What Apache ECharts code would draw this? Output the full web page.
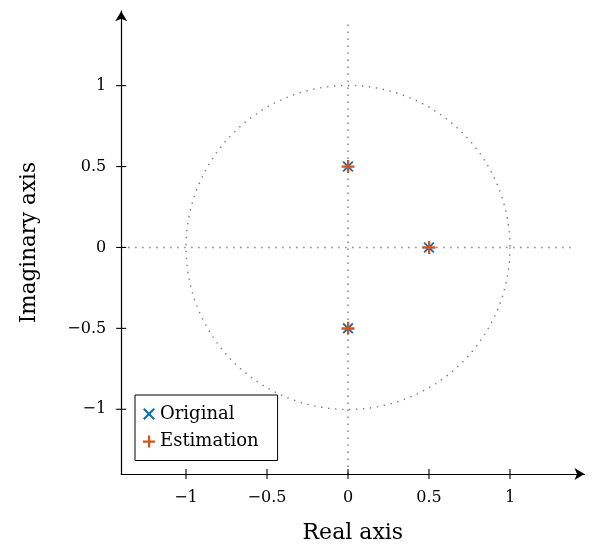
<!DOCTYPE html>
<html>
<head>
<meta charset="utf-8">
<script src="https://cdn.jsdelivr.net/npm/echarts@6/dist/echarts.min.js"></script>
<style>html,body{margin:0;padding:0;background:#fff;}#chart{width:598px;height:549px;}</style>
</head>
<body>
<div id="chart"></div>
<script>
// ---- data ----
const tickValues = [-1, -0.5, 0, 0.5, 1];
const originalPoints = [[0, 0.5], [0, -0.5], [0.5, 0]];
const estimationPoints = [[0, 0.5], [0, -0.5], [0.5, 0]];
const unitCircle = [[0, 0, 1]]; // center x, center y, radius
const hGuide = [[-1.4, 0], [1.4, 0]];
const vGuide = [[0, -1.4], [0, 1.4]];
const axisMin = -1.4, axisMax = 1.46;

const FONT = 'DejaVu Serif';
const X_PATH = 'path://M0,1.2L1.2,0L5,3.8L8.8,0L10,1.2L6.2,5L10,8.8L8.8,10L5,6.2L1.2,10L0,8.8L3.8,5Z';
const PLUS_PATH = 'path://M5,0h2.2v5h4.8v2.2h-4.8v4.8h-2.2v-4.8h-5v-2.2h5z';
const fmt = v => (v < 0 ? '\u2212' + Math.abs(v) : String(v));
const guideStyle = { color: '#7a7a7a', width: 1.4, type: [1.4, 5.6] };
const TICK_LEN = 5;

// ticks crossing the axis: [value, 0 = x axis / 1 = y axis]
const tickMarks = tickValues.map(v => [v, 0]).concat(tickValues.map(v => [v, 1]));

const chart = echarts.init(document.getElementById('chart'), null, { renderer: 'canvas' });

function mkAxis(dim) {
  return {
    type: 'value', min: axisMin, max: axisMax,
    position: dim === 'x' ? 'bottom' : 'left',
    splitLine: { show: false },
    axisLine: { show: true, onZero: false, symbol: ['none', 'arrow'], symbolSize: [9, 10],
      lineStyle: { color: '#000', width: 1.2 } },
    axisTick: { show: false },
    axisLabel: { show: true, customValues: tickValues, formatter: fmt,
      fontFamily: FONT, fontSize: 16, color: '#000', margin: dim === 'x' ? 16 : 15 },
    name: dim === 'x' ? 'Real axis' : 'Imaginary axis',
    nameLocation: 'middle',
    nameGap: dim === 'x' ? 48 : 81,
    nameTextStyle: { fontFamily: FONT, fontSize: dim === 'x' ? 22 : 21.5, color: '#000' },
    z: 5
  };
}

chart.setOption({
  animation: false,
  backgroundColor: '#fff',
  grid: { left: 121.2, right: 13.5, top: 11.2, bottom: 74.5, containLabel: false },
  xAxis: mkAxis('x'),
  yAxis: mkAxis('y'),
  legend: {
    left: 135, top: 395, orient: 'vertical',
    data: [{ name: 'Original', icon: X_PATH }, { name: 'Estimation', icon: PLUS_PATH }],
    itemWidth: 12, itemHeight: 12, itemGap: 7.5,
    padding: [9, 19, 9, 8],
    borderColor: '#000', borderWidth: 1, backgroundColor: '#fff',
    textStyle: { fontFamily: FONT, fontSize: 18, color: '#000', lineHeight: 20 },
    z: 10
  },
  series: [
    { type: 'line', data: hGuide, symbol: 'none', lineStyle: guideStyle, silent: true, z: 1 },
    { type: 'line', data: vGuide, symbol: 'none', lineStyle: guideStyle, silent: true, z: 1 },
    {
      type: 'custom', data: unitCircle, silent: true, z: 1,
      renderItem: function (params, api) {
        const c = api.coord([api.value(0), api.value(1)]);
        const r = api.size([api.value(2), api.value(2)]);
        return { type: 'circle', shape: { cx: c[0], cy: c[1], r: r[0] },
          style: { fill: 'none', stroke: guideStyle.color, lineWidth: guideStyle.width, lineDash: guideStyle.type } };
      }
    },
    {
      type: 'custom', data: tickMarks, silent: true, z: 6, clip: false,
      encode: { x: 0, y: 1 },
      renderItem: function (params, api) {
        const v = api.value(0), isY = api.value(1) === 1;
        const p = isY ? api.coord([axisMin, v]) : api.coord([v, axisMin]);
        const shape = isY
          ? { x1: p[0] - TICK_LEN, y1: p[1], x2: p[0] + TICK_LEN, y2: p[1] }
          : { x1: p[0], y1: p[1] - TICK_LEN, x2: p[0], y2: p[1] + TICK_LEN };
        return { type: 'line', shape: shape, style: { stroke: '#000', lineWidth: 1.1, fill: null } };
      }
    },
    { name: 'Original', type: 'scatter', data: originalPoints, symbol: X_PATH, symbolSize: 11,
      itemStyle: { color: '#0072BD', opacity: 1 }, z: 3 },
    { name: 'Estimation', type: 'scatter', data: estimationPoints, symbol: PLUS_PATH, symbolSize: 13,
      itemStyle: { color: '#D95319', opacity: 1 }, z: 4 }
  ]
});
</script>
</body>
</html>
